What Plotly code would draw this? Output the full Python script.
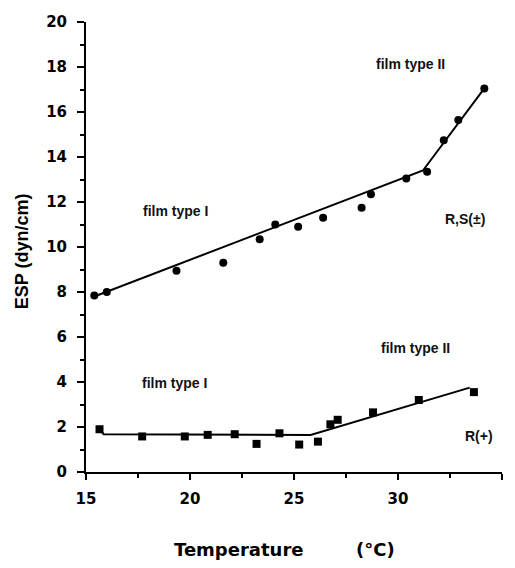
import plotly.graph_objects as go

# R,S(±) data (circles)
rs_temp = [15.4, 16.0, 19.35, 21.6, 23.35, 24.1, 25.2, 26.4, 28.25, 28.7, 30.4, 31.4, 32.2, 32.9, 34.15]
rs_esp = [7.85, 8.0, 8.95, 9.3, 10.35, 11.0, 10.9, 11.3, 11.75, 12.35, 13.05, 13.35, 14.75, 15.65, 17.05]
rs_fit_temp = [15.4, 31.2, 34.15]
rs_fit_esp = [7.8, 13.4, 17.05]

# R(+) data (squares)
r_temp = [15.65, 17.7, 19.75, 20.85, 22.15, 23.2, 24.3, 25.25, 26.15, 26.75, 27.1, 28.8, 31.0, 33.65]
r_esp = [1.9, 1.58, 1.58, 1.65, 1.68, 1.25, 1.72, 1.22, 1.35, 2.12, 2.32, 2.65, 3.2, 3.55]
r_fit_temp = [15.65, 15.85, 25.8, 33.45]
r_fit_esp = [1.9, 1.68, 1.65, 3.75]

x_ticks = [15, 20, 25, 30, 35]
x_ticktext = ["15", "20", "25", "30", "35"]
y_ticks = [0, 2, 4, 6, 8, 10, 12, 14, 16, 18, 20]
y_ticktext = ["0", "2", "4", "6", "8", "10", "12", "14", "16", "18", "20"]

labels = ["film type II", "film type I", "R,S(\u00b1)", "film type II", "film type I", "R(+)"]
label_x = [30.6, 19.3, 33.2, 30.85, 19.25, 33.9]
label_y = [18.15, 11.6, 11.25, 5.5, 3.95, 1.6]

fig = go.Figure()
fig.add_trace(go.Scatter(x=rs_fit_temp, y=rs_fit_esp, mode="lines",
                         line=dict(color="black", width=2), showlegend=False))
fig.add_trace(go.Scatter(x=rs_temp, y=rs_esp, mode="markers",
                         marker=dict(symbol="circle", size=8, color="black"), showlegend=False))
fig.add_trace(go.Scatter(x=r_fit_temp, y=r_fit_esp, mode="lines",
                         line=dict(color="black", width=2), showlegend=False))
fig.add_trace(go.Scatter(x=r_temp, y=r_esp, mode="markers",
                         marker=dict(symbol="square", size=8, color="black"), showlegend=False))

for t, xx, yy in zip(labels, label_x, label_y):
    fig.add_annotation(x=xx, y=yy, text=t, showarrow=False,
                       font=dict(family="Liberation Sans, Arial", size=14, color="#111", weight="bold"))

# page body has an 8px margin; plot area spans x 86..502, y 19.7..471.7 in the window
def px_x(p):
    return (p - 86) / 416

def px_y(p):
    return (471.7 - p) / 452

fig.add_annotation(x=px_x(238), y=px_y(550), xref="paper", yref="paper",
                   xanchor="center", yanchor="middle", text="<b>Temperature</b>", showarrow=False,
                   font=dict(family="DejaVu Sans", size=18, color="black"))
fig.add_annotation(x=px_x(375), y=px_y(550), xref="paper", yref="paper",
                   xanchor="center", yanchor="middle", text="<b>(\u00b0C)</b>", showarrow=False,
                   font=dict(family="DejaVu Sans", size=18, color="black"))
fig.add_annotation(x=px_x(22), y=px_y(250), xref="paper", yref="paper",
                   xanchor="center", yanchor="middle", textangle=-90,
                   text="<b>ESP (dyn/cm)</b>", showarrow=False,
                   font=dict(family="Liberation Sans, Arial", size=18, color="black"))

tickfont = dict(family="DejaVu Sans", size=15, color="black")
fig.update_layout(
    width=499, height=552,
    margin=dict(l=78, r=5, t=12, b=88),
    plot_bgcolor="white", paper_bgcolor="white",
    xaxis=dict(range=[15, 35], tickvals=x_ticks, ticktext=["<b>%s</b>" % s for s in x_ticktext],
               showgrid=False, zeroline=False, showline=True, linecolor="black", linewidth=2,
               ticks="outside", ticklen=6, tickwidth=2, tickcolor="black", ticklabelstandoff=6,
               minor=dict(dtick=2.5, tick0=15, ticks="outside", ticklen=4, tickwidth=1.5, tickcolor="black"),
               tickfont=tickfont),
    yaxis=dict(range=[0, 20], tickvals=y_ticks, ticktext=["<b>%s</b>" % s for s in y_ticktext],
               showgrid=False, zeroline=False, showline=True, linecolor="black", linewidth=2,
               ticks="outside", ticklen=7, tickwidth=2, tickcolor="black", ticklabelstandoff=7,
               minor=dict(dtick=1, tick0=0, ticks="outside", ticklen=4, tickwidth=1.5, tickcolor="black"),
               tickfont=tickfont),
)

fig.write_html("out.html", config={"displayModeBar": False},
               post_script="document.querySelectorAll('svg.main-svg').forEach(function(s){s.style.overflow='visible';});")
